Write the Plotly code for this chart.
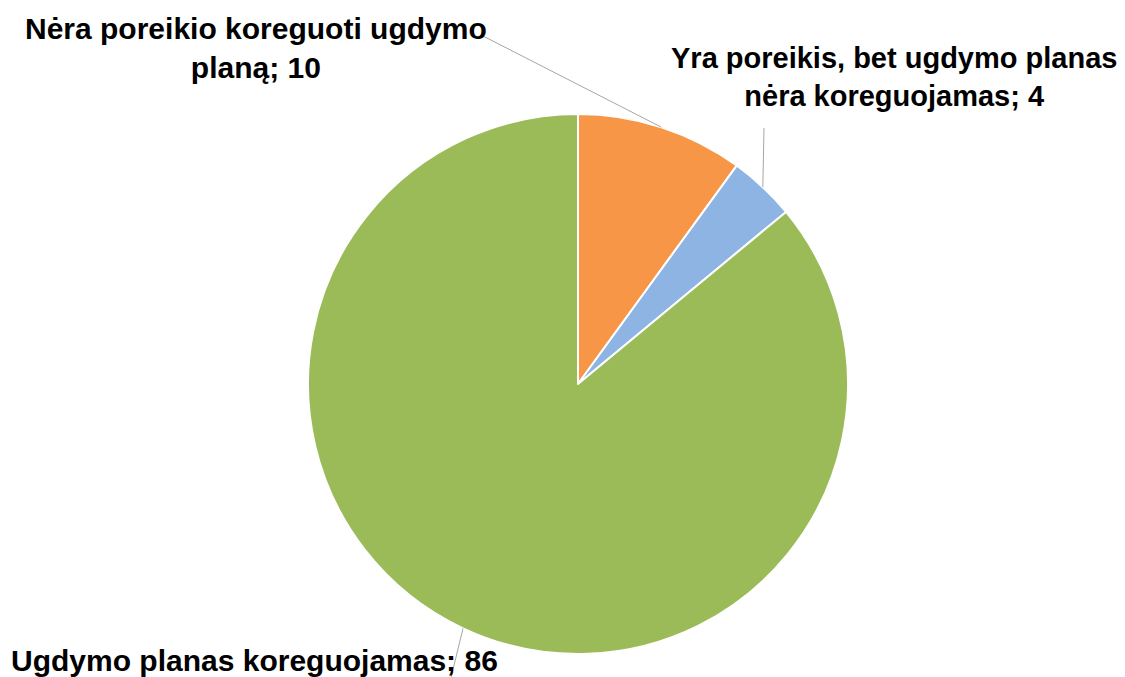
import math
import plotly.graph_objects as go

# ---- data ----
labels = [
    "Nėra poreikio koreguoti ugdymo planą",
    "Yra poreikis, bet ugdymo planas nėra koreguojamas",
    "Ugdymo planas koreguojamas",
]
label_text = [
    "Nėra poreikio koreguoti ugdymo<br>planą; 10",
    "Yra poreikis, bet ugdymo planas<br>nėra koreguojamas; 4",
    "Ugdymo planas koreguojamas; 86",
]
values = [10, 4, 86]
colors = ["#F79646", "#8EB4E3", "#9BBB59"]

# ---- layout constants (pixels) ----
W, H = 1125, 677
cx, cy, R = 578, 384, 270
# label centre positions and leader-line outer ends
label_pos = [(256, 48), (894, 77), (254, 660)]
leader_end = [(483, 36), (764, 128), (448, 690)]
FONT = "Liberation Sans, Arial, sans-serif"
FSIZES = [30, 29, 30]


def px2paper(x, y):
    return x / W, 1 - y / H


fig = go.Figure(
    go.Pie(
        labels=labels,
        values=values,
        marker=dict(colors=colors, line=dict(color="white", width=2)),
        sort=False,
        direction="clockwise",
        rotation=0,
        textinfo="none",
        hoverinfo="label+value",
        showlegend=False,
        domain=dict(x=[(cx - R) / W, (cx + R) / W], y=[1 - (cy + R) / H, 1 - (cy - R) / H]),
    )
)

total = sum(values)
cum = 0
shapes = []
annotations = []
for i, v in enumerate(values):
    mid = (cum + v / 2) / total * 2 * math.pi
    cum += v
    sx = cx + R * math.sin(mid)
    sy = cy - R * math.cos(mid)
    x0, y0 = px2paper(sx, sy)
    x1, y1 = px2paper(*leader_end[i])
    shapes.append(dict(type="line", xref="paper", yref="paper", x0=x0, y0=y0, x1=x1, y1=y1,
                       line=dict(color="#A6A6A6", width=1)))
    lx, ly = px2paper(*label_pos[i])
    annotations.append(dict(text="<b>" + label_text[i] + "</b>", x=lx, y=ly, xref="paper", yref="paper",
                            xanchor="center", yanchor="middle", showarrow=False, align="center",
                            font=dict(family=FONT, size=FSIZES[i], color="#000000")))

fig.update_layout(
    width=W, height=H,
    margin=dict(l=0, r=0, t=0, b=0),
    paper_bgcolor="white", plot_bgcolor="white",
    shapes=shapes, annotations=annotations,
)
fig.write_html("out.html", config={"displayModeBar": False},
               post_script="document.body.style.margin='0';document.body.style.overflow='hidden';")
